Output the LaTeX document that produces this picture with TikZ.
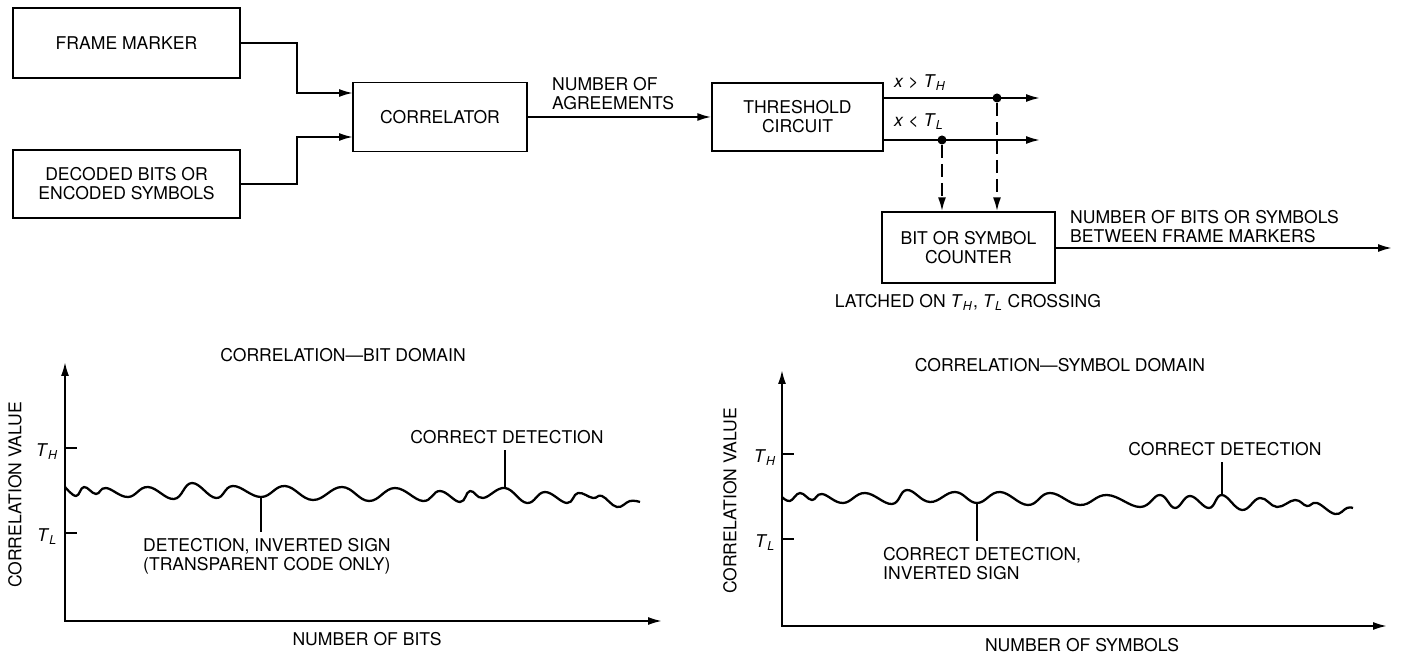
\documentclass[tikz,border=0pt]{standalone}
\usepackage{fontspec}
\setmainfont{TeX Gyre Heros}
\usetikzlibrary{arrows.meta,positioning,calc}
\newcommand{\thr}[1]{\textit{T}\textsubscript{\textit{#1}}}

\begin{document}
\begin{tikzpicture}[x=0.02cm,y=-0.02cm,font=\fontsize{10}{10.8}\selectfont,
  blk/.style={draw,line width=0.8pt,inner sep=0pt,align=center},
  wire/.style={line width=1.1pt},
  arr/.style={wire,-{Latex[length=2.8mm,width=1.6mm]}},
  axes/.style={wire,{Latex[length=2.8mm,width=1.6mm]}-{Latex[length=2.8mm,width=1.6mm]}},
  dasharr/.style={arr,dash pattern=on 0.26cm off 0.12cm},
  jdot/.style={circle,fill,inner sep=0pt,minimum size=0.18cm},
  pointer/.style={line width=0.7pt},
  wave/.style={line width=1.3pt,line join=round}]
  \useasboundingbox (0,0) rectangle (1401,658);

  % block diagram
  \node[blk,minimum width=4.54cm,minimum height=1.40cm] (frame) at (126.5,43) {FRAME MARKER};
  \node[blk,minimum width=4.54cm,minimum height=1.36cm] (decoded) at (126.5,184) {DECODED BITS OR\\ENCODED SYMBOLS};
  \node[blk,minimum width=3.48cm,minimum height=1.38cm] (correl) at (440,117) {CORRELATOR};
  \node[blk,minimum width=3.42cm,minimum height=1.36cm] (thresh) at (797.5,117) {THRESHOLD\\CIRCUIT};
  \node[blk,minimum width=3.46cm,minimum height=1.42cm] (counter) at (968.5,247.5) {BIT OR SYMBOL\\COUNTER};
  \coordinate (inA) at (353,93);
  \coordinate (inB) at (353,137);
  \draw[arr] (frame.east) -- ++(56,0) |- (inA);
  \draw[arr] (decoded.east) -- ++(56,0) |- (inB);
  \draw[arr] (correl) -- (thresh);
  \node[anchor=west,align=left] (agree) at (546,94) {NUMBER OF\\AGREEMENTS};
  \coordinate (hiend) at (1040,98);
  \coordinate (loend) at (1040,140);
  \draw[arr] (thresh.east |- hiend) -- (hiend);
  \draw[arr] (thresh.east |- loend) -- (loend);
  \node[jdot] (hj) at (997,98) {};
  \node[jdot] (lj) at (942,140) {};
  \draw[dasharr] (hj) -- (hj |- counter.north);
  \draw[dasharr] (lj) -- (lj |- counter.north);
  \node[anchor=west] (gtlab) at (888,83) {\textit{x} > \thr{H}};
  \node[anchor=west] (ltlab) at (888,122) {\textit{x} < \thr{L}};
  \coordinate (cntend) at (1392,248);
  \draw[arr] (counter.east |- cntend) -- (cntend);
  \node[anchor=west,align=left] (cntlab) at (1064,227) {NUMBER OF BITS OR SYMBOLS\\BETWEEN FRAME MARKERS};
  \node (latch) at (968,302) {LATCHED ON \thr{H}, \thr{L} CROSSING};

  % bit domain
  \coordinate (y1) at (65,362);
  \coordinate (x1) at (662,621);
  \draw[axes] (y1) |- (x1);
  \draw[wire] (65,448) -- (77,448);
  \draw[wire] (65,533) -- (77,533);
  \node (th1) at (47,452) {\thr{H}};
  \node (tl1) at (47,537) {\thr{L}};
  \node[rotate=90] (cv1) at (15,495) {CORRELATION VALUE};
  \node (ttl1) at (343,355) {CORRELATION---BIT DOMAIN};
  \node (nbits) at (367,639) {NUMBER OF BITS};
  \draw[wave] plot[smooth,tension=0.7] coordinates {(65,487) (76,496) (84,487) (96,494) (106,488)
    (128,497) (148,487) (174,499) (192,483) (216,498) (233,486) (261,497) (285,486) (313,500)
    (342,487) (369,501) (395,488) (423,501) (440,491) (460,502) (470,491) (483,498) (505,488)
    (527,503) (545,492) (567,503) (578,493) (593,498) (602,496) (617,507) (630,501) (640,502)};
  \coordinate (pk1) at (505,488);
  \coordinate (tr1) at (261,497);
  \node (cd1) at (507,437) {CORRECT DETECTION};
  \node[anchor=north west,align=left] (inv1) at (137,532) {DETECTION, INVERTED SIGN\\(TRANSPARENT CODE ONLY)};
  \draw[pointer] (pk1) -- (pk1 |- cd1.south);
  \draw[pointer] (tr1) -- (tr1 |- inv1.north);

  % symbol domain
  \coordinate (y2) at (782,370);
  \coordinate (x2) at (1387,626);
  \draw[axes] (y2) |- (x2);
  \draw[wire] (782,454) -- (794,454);
  \draw[wire] (782,539) -- (794,539);
  \node (th2) at (765,458) {\thr{H}};
  \node (tl2) at (765,543) {\thr{L}};
  \node[rotate=90] (cv2) at (730,501) {CORRELATION VALUE};
  \node (ttl2) at (1060,365) {CORRELATION---SYMBOL DOMAIN};
  \node (nsym) at (1082,645) {NUMBER OF SYMBOLS};
  \draw[wave] plot[smooth,tension=0.7] coordinates {(782,497) (790,501) (800,493) (812,500) (822,494)
    (843,503) (865,493) (892,504) (907,490) (930,502) (955,492) (977,503) (1000,492) (1028,505)
    (1050,493) (1080,505) (1107,495) (1140,507) (1160,495) (1175,508) (1190,496) (1209,508)
    (1222,495) (1242,510) (1260,498) (1277,507) (1295,500) (1307,506) (1317,503) (1335,514)
    (1347,508) (1353,508)};
  \coordinate (pk2) at (1222,495);
  \coordinate (tr2) at (977,503);
  \node (cd2) at (1225,449) {CORRECT DETECTION};
  \node[anchor=north west,align=left] (inv2) at (877,541) {CORRECT DETECTION,\\INVERTED SIGN};
  \draw[pointer] (pk2) -- (pk2 |- cd2.south);
  \draw[pointer] (tr2) -- (tr2 |- inv2.north);
\end{tikzpicture}
\end{document}
